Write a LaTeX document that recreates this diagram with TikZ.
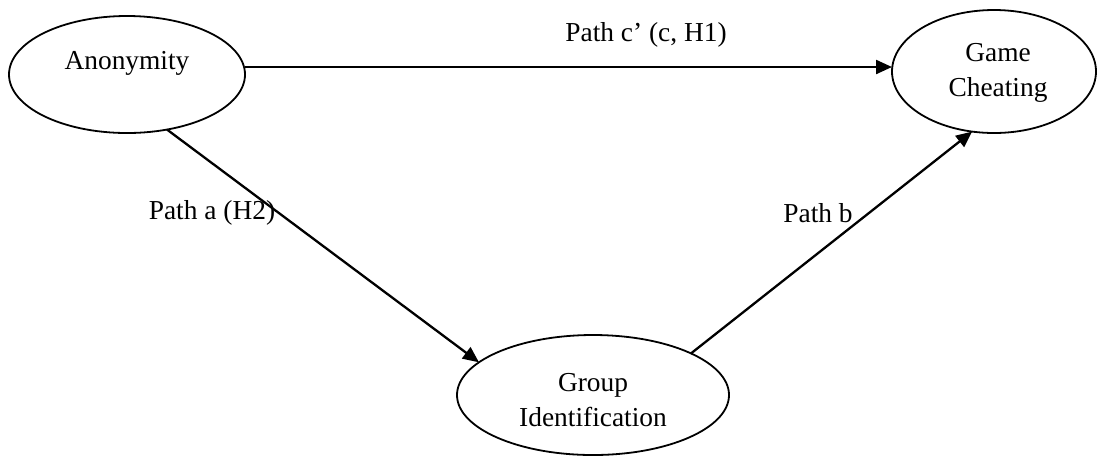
\documentclass[tikz,border=0pt]{standalone}
\usepackage{fontspec}
\setmainfont{Liberation Serif}
\usetikzlibrary{shapes.geometric,arrows.meta}

\begin{document}
\begin{tikzpicture}[x=0.5pt,y=-0.5pt,
  construct/.style={ellipse,draw,line width=0.9pt,inner sep=0pt,outer sep=0pt},
  txt/.style={font=\fontsize{13.7}{17.5}\selectfont,align=center,inner sep=0pt},
  pathlink/.style={line width=1.15pt,-{Triangle[length=8pt,width=7pt]}}]
  \useasboundingbox (0,0) rectangle (1097,457);

  % constructs
  \node[construct,minimum width=118pt,minimum height=58.5pt] (anon) at (127,74.5) {};
  \node[txt] (anontxt) at (127,63) {Anonymity};

  \node[construct,minimum width=102pt,minimum height=61.5pt] (game) at (994,71.5) {};
  \node[txt] (gametxt) at (998,73) {Game\\Cheating};

  \node[construct,minimum width=136pt,minimum height=60pt] (group) at (593,395) {};
  \node[txt] (grouptxt) at (593,400) {Group\\Identification};

  % paths
  \coordinate (cstart) at ([yshift=3.75pt]anon.east);
  \draw[pathlink] (cstart) -- (cstart -| game.west);
  \draw[pathlink] (anon.-54.5) -- (group.164.1);
  \draw[pathlink] (group.23) -- (game.250.3);

  % path labels
  \node[txt] (lc) at (646,35) {Path c’ (c, H1)};
  \node[txt] (la) at (212,213) {Path a (H2)};
  \node[txt] (lb) at (818,213) {Path b};
\end{tikzpicture}
\end{document}
